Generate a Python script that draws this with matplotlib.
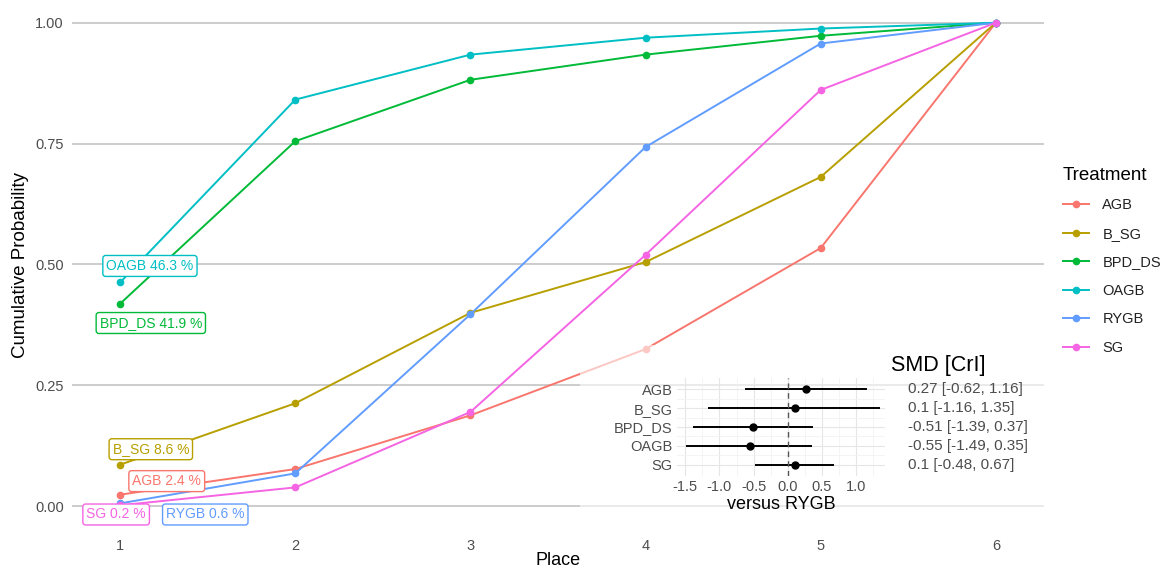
import matplotlib.pyplot as plt
from matplotlib.patches import Rectangle
from matplotlib.ticker import MultipleLocator

plt.rcParams['font.family'] = ['Liberation Sans', 'DejaVu Sans']
plt.rcParams['axes.unicode_minus'] = False

places = [1, 2, 3, 4, 5, 6]
treatments = ['AGB', 'B_SG', 'BPD_DS', 'OAGB', 'RYGB', 'SG']
colors = ['#F8766D', '#B79F00', '#00BA38', '#00BFC4', '#619CFF', '#F564E3']

cum_prob = {
	'AGB':    [0.024, 0.077, 0.188, 0.325, 0.534, 1.0],
	'B_SG':   [0.086, 0.213, 0.400, 0.505, 0.681, 1.0],
	'BPD_DS': [0.419, 0.755, 0.882, 0.934, 0.973, 1.0],
	'OAGB':   [0.463, 0.841, 0.934, 0.969, 0.988, 1.0],
	'RYGB':   [0.006, 0.068, 0.397, 0.743, 0.957, 1.0],
	'SG':     [0.002, 0.039, 0.195, 0.520, 0.861, 1.0],
}
first_place_pct = {'AGB': 2.4, 'B_SG': 8.6, 'BPD_DS': 41.9, 'OAGB': 46.3, 'RYGB': 0.6, 'SG': 0.2}

# forest plot data (versus RYGB)
smd_names = ['AGB', 'B_SG', 'BPD_DS', 'OAGB', 'SG']
smd_est = [0.27, 0.1, -0.51, -0.55, 0.1]
smd_lo = [-0.62, -1.16, -1.39, -1.49, -0.48]
smd_hi = [1.16, 1.35, 0.37, 0.35, 0.67]

# label positions (data coords) for the repel-style boxes
label_pos = {
	'OAGB': (1.17, 0.497), 'BPD_DS': (1.175, 0.379), 'B_SG': (1.175, 0.118),
	'AGB': (1.266, 0.052), 'SG': (0.977, -0.017), 'RYGB': (1.486, -0.017),
}

W, H = 1170, 569
fig = plt.figure(figsize=(W / 100, H / 100), dpi=100)
ax = fig.add_axes([72 / W, 40 / H, 972 / W, 529 / H])
for s in ax.spines.values():
	s.set_visible(False)
ax.set_xlim(0.725, 6.275)
ax.set_ylim(-0.047, 1.047)
ax.set_yticks([0, 0.25, 0.5, 0.75, 1.0])
ax.set_yticklabels(['0.00', '0.25', '0.50', '0.75', '1.00'])
ax.set_xticks(places)
ax.tick_params(length=0, labelsize=10.5, labelcolor='#4D4D4D')
ax.tick_params(axis='x', pad=7)
ax.tick_params(axis='y', pad=6)
ax.grid(axis='y', color='#C4C4C4', linewidth=1.2)
ax.set_axisbelow(True)
ax.set_xlabel('Place', fontsize=13)
ax.xaxis.set_label_coords(0.5, -0.043)
ax.set_ylabel('Cumulative Probability', fontsize=13.5, labelpad=4)

for name, c in zip(treatments, colors):
	ax.plot(places, cum_prob[name], color=c, lw=1.4, marker='o', ms=4.5, label=name)
	lx, ly = label_pos[name]
	ax.text(lx, ly, '%s %.1f %%' % (name, first_place_pct[name]), color=c, fontsize=10,
		ha='center', va='center',
		bbox=dict(boxstyle='round,pad=0.25,rounding_size=0.2', fc='white', ec=c, lw=1))

leg = ax.legend(title='Treatment', loc='upper left', bbox_to_anchor=(1.006, 0.71),
	frameon=False, fontsize=10.5, title_fontsize=13.5, labelspacing=1.0,
	handlelength=1.8, handletextpad=0.9, alignment='left')
for t in leg.get_texts():
	t.set_color('#222222')

# inset background (semi-transparent white)
fig.patches.append(Rectangle((580 / W, 50 / H), 465 / W, 174 / H, transform=fig.transFigure,
	facecolor='white', alpha=0.6, edgecolor='none', zorder=2))

ins = fig.add_axes([677 / W, (H - 476) / H, 208 / W, 98 / H], zorder=3)
ins.set_facecolor('none')
for s in ins.spines.values():
	s.set_visible(False)
ypos = list(range(len(smd_names)))[::-1]
ins.hlines(ypos, smd_lo, smd_hi, color='black', lw=1.4)
ins.plot(smd_est, ypos, 'o', color='black', ms=5)
ins.axvline(0, color='#555555', lw=1, ls=(0, (4, 3)))
ins.set_xlim(-1.62, 1.42)
ins.set_ylim(-0.6, 4.6)
ins.set_yticks(ypos)
ins.set_yticklabels(smd_names)
ins.set_xticks([-1.5, -1.0, -0.5, 0.0, 0.5, 1.0])
ins.xaxis.set_minor_locator(MultipleLocator(0.25))
ins.set_yticks([y + 0.5 for y in ypos[1:]], minor=True)
ins.tick_params(which='both', length=0, labelsize=10.5, labelcolor='#4D4D4D', pad=3)
ins.grid(which='major', color='#E6E6E6', lw=0.8)
ins.grid(which='minor', color='#F2F2F2', lw=0.6)
ins.set_axisbelow(True)
ins.set_xlabel('versus RYGB', fontsize=13, labelpad=1)
for y, e, lo, hi in zip(ypos, smd_est, smd_lo, smd_hi):
	ins.text(1.11, y, '%g [%g, %g]' % (e, lo, hi), transform=ins.get_yaxis_transform(),
		fontsize=11, color='#4D4D4D', va='center', ha='left', clip_on=False)
ins.text(1.03, 1.02, 'SMD [CrI]', transform=ins.transAxes, fontsize=15.5, ha='left', va='bottom')

fig.savefig('out.png', dpi=100)
